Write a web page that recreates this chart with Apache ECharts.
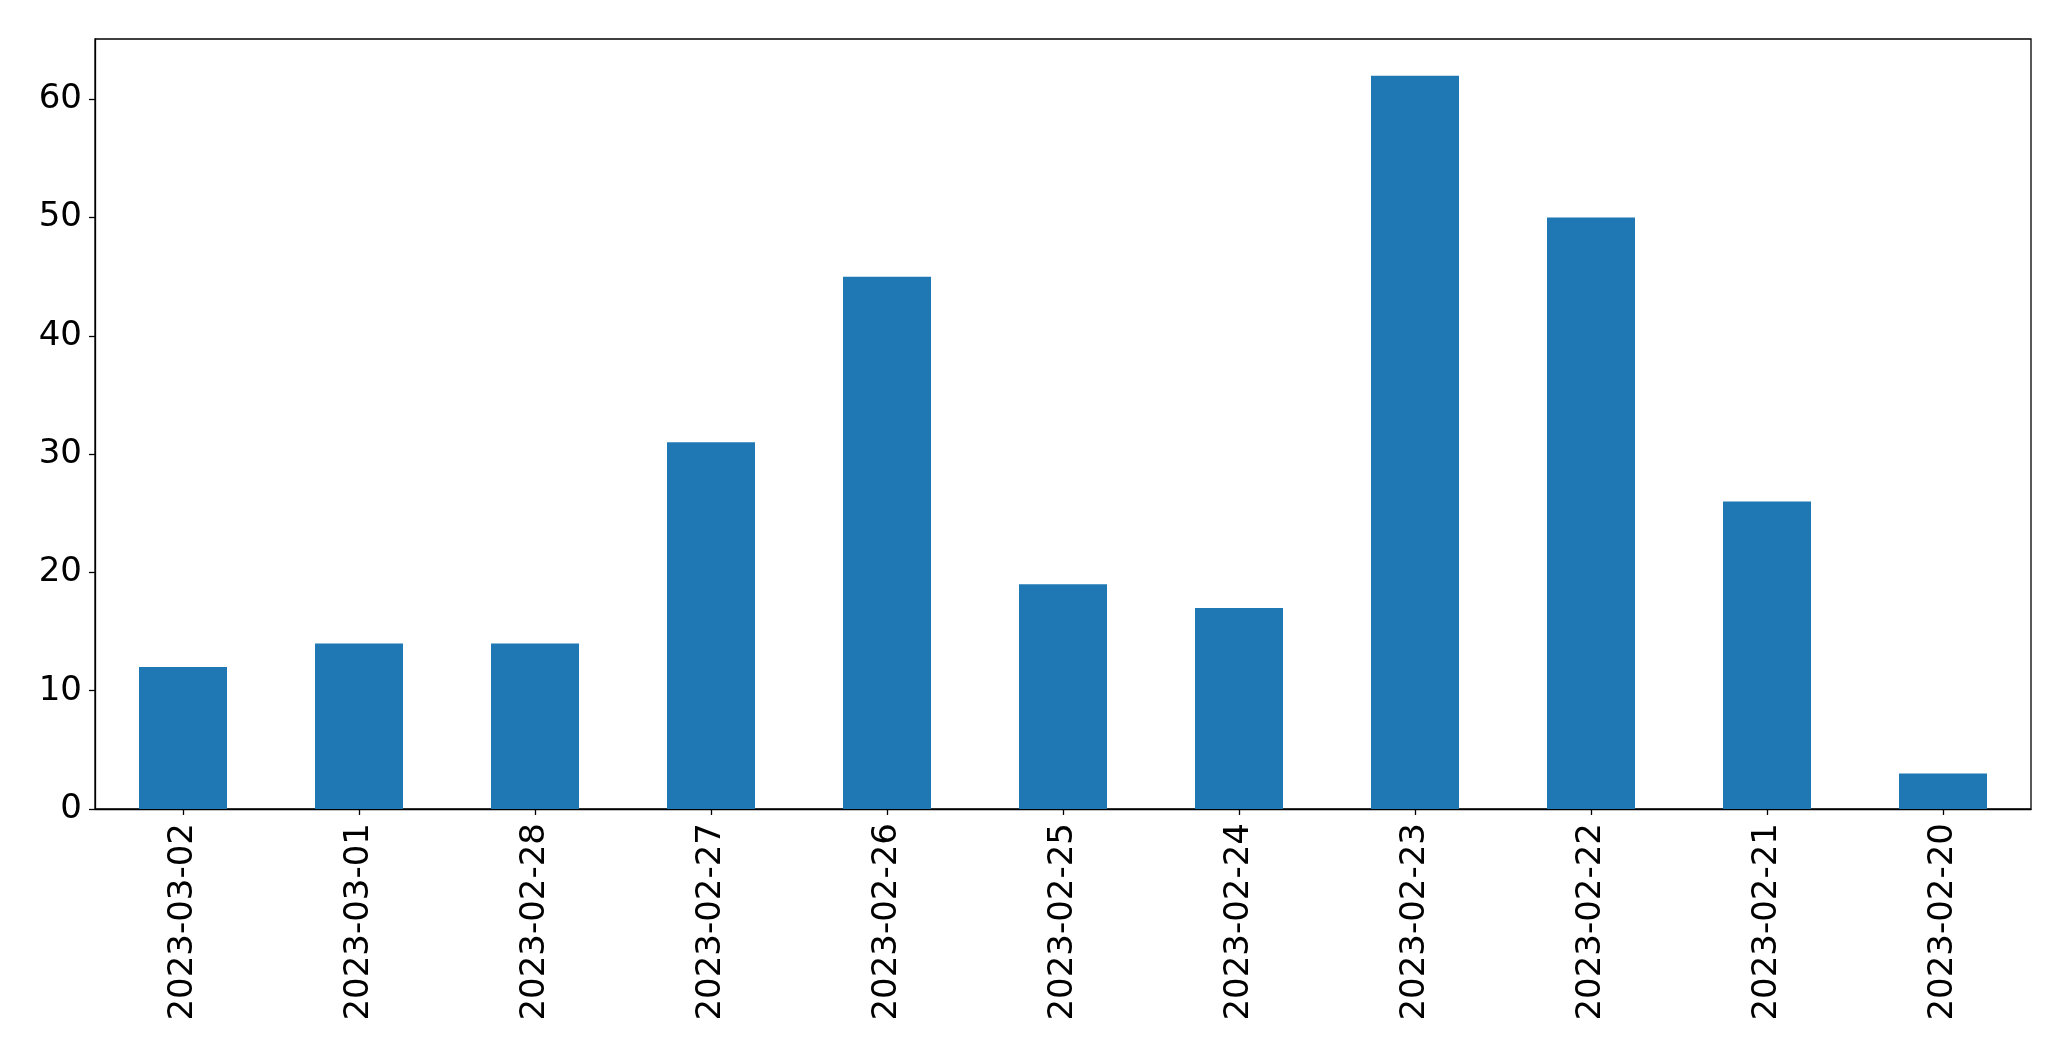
<!DOCTYPE html>
<html>
<head>
<meta charset="utf-8">
<script src="https://cdn.jsdelivr.net/npm/echarts@6/dist/echarts.min.js"></script>
<style>
html,body{margin:0;padding:0;background:#fff;}
#chart{width:2071px;height:1061px;}
</style>
</head>
<body>
<div id="chart"></div>
<script>
const categories = ["2023-03-02","2023-03-01","2023-02-28","2023-02-27","2023-02-26","2023-02-25","2023-02-24","2023-02-23","2023-02-22","2023-02-21","2023-02-20"];
const values = [12, 14, 14, 31, 45, 19, 17, 62, 50, 26, 3];
const yTicks = [0, 10, 20, 30, 40, 50, 60];

const chart = echarts.init(document.getElementById('chart'), null, {renderer: 'canvas'});
const font = 'DejaVu Sans';
chart.setOption({
  animation: false,
  backgroundColor: '#ffffff',
  grid: {
    left: 95, top: 39, right: 40, bottom: 252,
    show: true, borderColor: '#000', borderWidth: 1.3, backgroundColor: 'transparent'
  },
  xAxis: {
    type: 'category',
    data: categories,
    boundaryGap: true,
    axisLine: {show: true, lineStyle: {color: '#000', width: 1.3}},
    axisTick: {show: true, alignWithLabel: true, length: 6, lineStyle: {color: '#000', width: 1.3}},
    axisLabel: {rotate: 90, margin: 14, fontSize: 34, fontFamily: font, color: '#000', interval: 0}
  },
  yAxis: {
    type: 'value',
    min: 0,
    max: 65.1,
    interval: 10,
    splitLine: {show: false},
    axisLine: {show: true, lineStyle: {color: '#000', width: 1.3}},
    axisTick: {show: true, length: 6, lineStyle: {color: '#000', width: 1.3}, customValues: yTicks},
    axisLabel: {margin: 13, fontSize: 34, fontFamily: font, color: '#000', customValues: yTicks}
  },
  series: [{
    type: 'bar',
    data: values,
    barWidth: '50%',
    itemStyle: {color: '#1f77b4'}
  }]
});
</script>
</body>
</html>
